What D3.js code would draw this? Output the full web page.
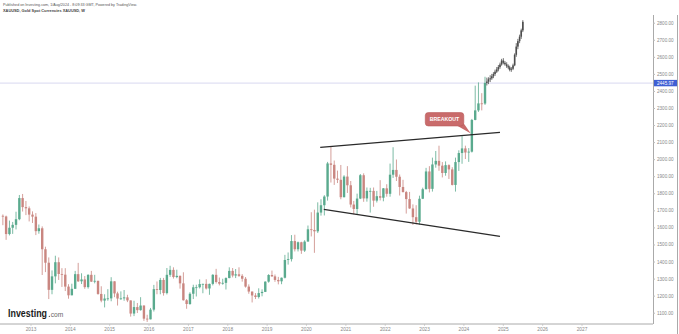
<!DOCTYPE html>
<html>
<head>
<meta charset="utf-8">
<script src="https://d3js.org/d3.v7.min.js"></script>
<style>
  body { margin: 0; background: #fff; }
  text { font-family: "Liberation Sans", Arial, sans-serif; }
</style>
</head>
<body>
<svg width="679" height="334"></svg>
<script>
// monthly XAUUSD candles (Apr 2012 - Jul 2024)
var startMonth = "2012-04";
var opens = [
  1668,1664,1561,1598,1615,1648,1772,1719,1712,
  1675,1663,1578,1595,1472,1393,1234,1313,1396,1327,1323,1253,
  1202,1240,1326,1284,1295,1250,1322,1282,1287,1210,1171,1183,
  1184,1284,1213,1183,1184,1190,1172,1095,1133,1115,1142,1065,
  1061,1118,1238,1233,1292,1215,1322,1351,1309,1316,1272,1173,
  1151,1211,1249,1249,1268,1269,1242,1269,1322,1280,1270,1275,
  1303,1345,1318,1325,1316,1299,1253,1224,1201,1192,1215,1222,
  1282,1321,1313,1292,1284,1305,1409,1414,1520,1472,1513,1464,
  1517,1589,1585,1577,1687,1730,1781,1975,1967,1886,1879,1777,
  1898,1847,1734,1708,1769,1906,1770,1814,1814,1757,1783,1774,
  1829,1797,1909,1937,1897,1837,1807,1766,1711,1660,1633,1768,
  1824,1928,1826,1969,1990,1962,1919,1965,1940,1849,1983,2036,
  2063,2039,2044,2230,2286,2327,2326
];
var highs = [
  1676,1669,1640,1632,1692,1790,1796,1755,1723,
  1694,1684,1617,1606,1487,1424,1348,1434,1424,1361,1361,1267,
  1270,1345,1392,1331,1315,1325,1345,1322,1287,1255,1208,1238,
  1308,1284,1223,1225,1233,1205,1172,1170,1157,1191,1143,1088,
  1128,1263,1283,1304,1304,1362,1375,1366,1352,1318,1337,1180,
  1220,1264,1264,1295,1270,1296,1270,1326,1357,1306,1299,1307,
  1366,1362,1356,1366,1326,1309,1266,1224,1215,1243,1237,1284,
  1326,1347,1324,1310,1306,1439,1453,1555,1557,1517,1516,1525,
  1611,1689,1704,1747,1765,1789,1984,2075,1992,1933,1966,1906,
  1959,1872,1755,1798,1913,1917,1834,1832,1834,1814,1877,1831,
  1853,1974,2070,1998,1910,1879,1814,1808,1735,1730,1786,1833,
  1949,1959,2009,2048,2079,1983,1987,1970,1953,2009,2052,2135,
  2079,2065,2236,2431,2450,2387,2483
];
var lows = [
  1613,1527,1553,1562,1588,1642,1693,1672,1635,
  1626,1555,1563,1321,1338,1180,1208,1272,1292,1251,1227,1182,
  1202,1240,1280,1268,1240,1241,1280,1272,1205,1161,1131,1170,
  1167,1191,1142,1175,1170,1162,1077,1080,1098,1112,1052,1046,
  1061,1107,1208,1208,1200,1207,1310,1300,1302,1241,1171,1123,
  1146,1180,1195,1242,1214,1236,1205,1260,1271,1260,1264,1236,
  1302,1307,1303,1310,1282,1247,1211,1160,1180,1183,1196,1221,
  1276,1310,1281,1266,1267,1301,1382,1400,1459,1459,1445,1456,
  1517,1547,1451,1567,1669,1670,1757,1863,1849,1860,1765,1776,
  1802,1717,1677,1678,1766,1750,1751,1687,1721,1746,1758,1753,
  1780,1780,1890,1872,1787,1805,1681,1709,1615,1618,1616,1766,
  1823,1805,1810,1950,1932,1893,1903,1884,1846,1810,1931,1973,
  2001,1984,2039,2228,2277,2286,2318
];
var closes = [
  1664,1561,1598,1615,1648,1772,1719,1712,1675,
  1663,1578,1595,1472,1393,1234,1313,1396,1327,1323,1253,1202,
  1240,1326,1284,1295,1250,1322,1282,1287,1210,1171,1183,1184,
  1284,1213,1183,1184,1190,1172,1095,1133,1115,1142,1065,1061,
  1118,1238,1233,1292,1215,1322,1351,1309,1316,1272,1173,1151,
  1211,1249,1249,1268,1269,1242,1269,1322,1280,1270,1275,1303,
  1345,1318,1325,1316,1299,1253,1224,1201,1192,1215,1222,1282,
  1321,1313,1292,1284,1305,1409,1414,1520,1472,1513,1464,1517,
  1589,1585,1577,1687,1730,1781,1975,1967,1886,1879,1777,1898,
  1847,1734,1708,1769,1906,1770,1814,1814,1757,1783,1774,1829,
  1797,1909,1937,1897,1837,1807,1766,1711,1660,1633,1768,1824,
  1928,1826,1969,1990,1962,1919,1965,1940,1849,1983,2036,2063,
  2039,2044,2230,2286,2327,2326,2447
];

// grey projected path after the breakout (half-month bars)
var projDates = ["2024-08-01","2024-08-16","2024-09-01","2024-09-16","2024-10-01","2024-10-16",
  "2024-11-01","2024-11-16","2024-12-01","2024-12-16","2025-01-01","2025-01-16","2025-02-01",
  "2025-02-16","2025-03-01","2025-03-16","2025-04-01","2025-04-16","2025-05-01","2025-05-16",
  "2025-06-01","2025-06-16","2025-07-01"];
var projOpen  = [2447,2455,2468,2474,2486,2499,2513,2526,2540,2555,2578,2565,2556,2545,2538,2524,2530,2550,2612,2660,2692,2718,2755];
var projHigh  = [2478,2480,2492,2500,2510,2525,2540,2552,2566,2588,2592,2575,2568,2555,2548,2540,2560,2620,2680,2705,2730,2765,2815];
var projLow   = [2432,2440,2452,2465,2475,2488,2505,2515,2530,2548,2556,2548,2535,2527,2515,2512,2522,2545,2600,2645,2680,2705,2745];
var projClose = [2455,2468,2474,2486,2499,2513,2526,2540,2555,2578,2565,2556,2545,2538,2524,2530,2550,2612,2660,2692,2718,2755,2805];

// trend lines (channel) and last price
var upperLine = [["2020-05-08", 2069], ["2024-12-01", 2157]];
var lowerLine = [["2020-06-10", 1706], ["2024-12-01", 1547]];
var lastPrice = 2445.97;
var breakout = ["2024-03-05", 2150];
var priceTicks = d3.range(1100, 2801, 100);
var yearTicks = d3.range(2013, 2028);

var svg = d3.select("svg");
var plotRight = 653, plotBottom = 324;
var parse = d3.timeParse("%Y-%m-%d");

var x = d3.scaleTime()
  .domain([new Date(2013, 0, 1), new Date(2027, 0, 1)])
  .range([31, 582]);
var y = d3.scaleLinear()
  .domain([1100, 2800])
  .range([312.7, 22.7]);

svg.append("defs").append("clipPath").attr("id", "plot")
  .append("rect").attr("x", 0).attr("y", 14).attr("width", plotRight).attr("height", plotBottom - 14);

// header text
svg.append("text").attr("x", 3).attr("y", 6.3)
  .attr("font-size", 3.7).attr("fill", "#555")
  .text("Published on Investing.com, 1/Aug/2024 - 8:09:33 GMT, Powered by TradingView.");
svg.append("text").attr("x", 3).attr("y", 12.3)
  .attr("font-size", 3.9).attr("font-weight", "bold").attr("fill", "#444")
  .text("XAUUSD, Gold Spot Currencies XAUUSD, W");

// frame lines
svg.append("line").attr("x1", 0).attr("x2", plotRight).attr("y1", plotBottom).attr("y2", plotBottom)
  .attr("stroke", "#aaa").attr("stroke-width", 1);
svg.append("line").attr("x1", 677.5).attr("x2", 677.5).attr("y1", 15).attr("y2", 334)
  .attr("stroke", "#aaa").attr("stroke-width", 1);

// last price line
svg.append("line").attr("x1", 0).attr("x2", plotRight)
  .attr("y1", y(lastPrice)).attr("y2", y(lastPrice))
  .attr("stroke", "#d8d8f0").attr("stroke-width", 1);

// candles
var bars = opens.map(function(o, i) {
  var d = d3.timeMonth.offset(parse(startMonth + "-15"), i);
  return { date: d, o: o, h: highs[i], l: lows[i], c: closes[i] };
});
var proj = projDates.map(function(s, i) {
  return { date: parse(s), o: projOpen[i], h: projHigh[i], l: projLow[i], c: projClose[i] };
});

var gCandles = svg.append("g").attr("clip-path", "url(#plot)");
function drawCandles(data, w, colorFn) {
  var g = gCandles.append("g");
  g.selectAll("line").data(data).enter().append("line")
    .attr("x1", function(d) { return x(d.date); })
    .attr("x2", function(d) { return x(d.date); })
    .attr("y1", function(d) { return y(d.h); })
    .attr("y2", function(d) { return y(d.l); })
    .attr("stroke", colorFn).attr("stroke-width", 0.8);
  g.selectAll("rect").data(data).enter().append("rect")
    .attr("x", function(d) { return x(d.date) - w / 2; })
    .attr("width", w)
    .attr("y", function(d) { return y(Math.max(d.o, d.c)); })
    .attr("height", function(d) { return Math.max(0.8, Math.abs(y(d.o) - y(d.c))); })
    .attr("fill", colorFn);
}
drawCandles(bars, 2.4, function(d) { return d.c >= d.o ? "#5aaa8e" : "#c98680"; });
drawCandles(proj, 1.6, function() { return "#4d4d4d"; });

// channel lines
var line = d3.line()
  .x(function(d) { return x(parse(d[0])); })
  .y(function(d) { return y(d[1]); });
[upperLine, lowerLine].forEach(function(l) {
  svg.append("path").attr("d", line(l))
    .attr("fill", "none").attr("stroke", "#2a2a2a").attr("stroke-width", 1.2);
});

// breakout callout
var bx = x(parse(breakout[0])), by = y(breakout[1]);
var gB = svg.append("g");
gB.append("path")
  .attr("d", "M" + (bx - 14) + "," + (by - 8) + "L" + bx + "," + by + "L" + (bx - 7) + "," + (by - 10) + "Z")
  .attr("fill", "#c96b6b");
gB.append("rect")
  .attr("x", bx - 45.5).attr("y", by - 21)
  .attr("width", 38.5).attr("height", 13.4).attr("rx", 3)
  .attr("fill", "#c96b6b").attr("stroke", "#b85a5a").attr("stroke-width", 0.6);
gB.append("text").attr("x", bx - 26.3).attr("y", by - 12.3)
  .attr("text-anchor", "middle").attr("font-size", 5.2).attr("font-weight", "bold")
  .attr("fill", "#fff").text("BREAKOUT");

// price axis
var yAxis = d3.axisRight(y).tickValues(priceTicks).tickFormat(d3.format(".2f")).tickSize(2).tickPadding(2);
var gy = svg.append("g").attr("transform", "translate(" + plotRight + ",0)").call(yAxis);
gy.select(".domain").attr("stroke", "#aaa").attr("d", "M0.5,15V" + plotBottom);
gy.selectAll(".tick line").attr("stroke", "#bbb");
gy.selectAll(".tick text").attr("font-size", 4.6).attr("fill", "#888")
  .attr("font-family", "Liberation Sans, Arial, sans-serif");

// last price tag
svg.append("rect").attr("x", plotRight + 1).attr("y", y(lastPrice) - 3.2)
  .attr("width", 23).attr("height", 6.4).attr("fill", "#3f5fd4");
svg.append("text").attr("x", plotRight + 4).attr("y", y(lastPrice) + 1.7)
  .attr("font-size", 4.6).attr("fill", "#fff").text(d3.format(".2f")(lastPrice));

// time axis
var gx = svg.append("g");
yearTicks.forEach(function(yr) {
  var px = x(new Date(yr, 0, 1));
  gx.append("line").attr("x1", px).attr("x2", px).attr("y1", plotBottom).attr("y2", plotBottom + 2)
    .attr("stroke", "#bbb").attr("stroke-width", 0.6);
  gx.append("text").attr("x", px).attr("y", 330.6)
    .attr("text-anchor", "middle").attr("font-size", 4.8).attr("fill", "#888").text(yr);
});

// Investing.com logo
svg.append("text").attr("x", 8).attr("y", 317.2)
  .attr("font-size", 10).attr("font-weight", "bold").attr("fill", "#1b1b1b")
  .attr("textLength", 39).attr("lengthAdjust", "spacingAndGlyphs").text("Investing");
svg.append("text").attr("x", 50.8).attr("y", 317.2)
  .attr("font-size", 6.4).attr("fill", "#666")
  .attr("textLength", 12.5).attr("lengthAdjust", "spacingAndGlyphs").text("com");
svg.append("circle").attr("cx", 49.4).attr("cy", 316.4).attr("r", 0.7).attr("fill", "#666");
</script>
</body>
</html>
